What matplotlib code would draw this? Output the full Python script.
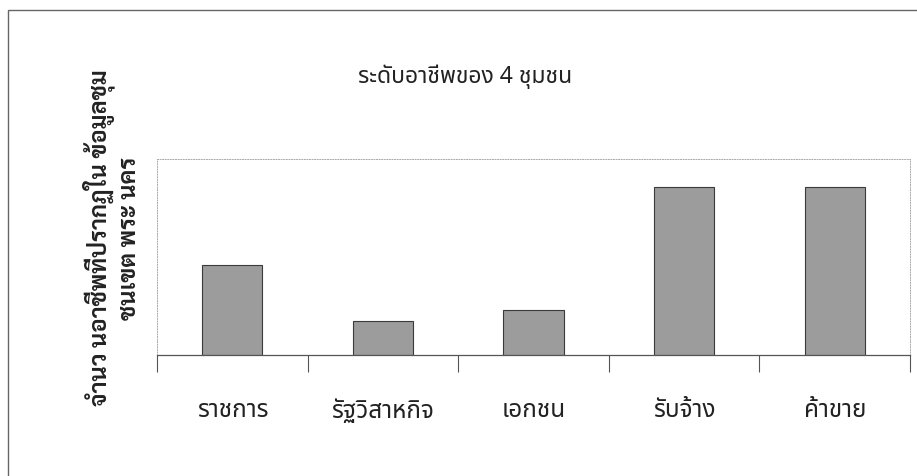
import matplotlib
matplotlib.use('Agg')
import numpy as np
import matplotlib.pyplot as plt
from matplotlib.patches import Rectangle

# occupation counts for the 4 communities
categories = ['ราชการ', 'รัฐวิสาหกิจ', 'เอกชน', 'รับจ้าง', 'ค้าขาย']
counts = [8, 3, 4, 15, 15]
title = 'ระดับอาชีพของ 4 ชุมชน'
ylabel = 'จำนว นอาชีพที่ปรากฏใน ข้อมูลชุม\nชนเขต พระ นคร'

label_font = 'Noto Sans Thai'
ylab_font = 'Sarabun'

fig = plt.figure(figsize=(9.17, 4.77), dpi=100)
ax = fig.add_axes([157/917, 121/477, 753/917, 196/477])

x = np.arange(len(categories))
ax.bar(x, counts, width=0.4, color='#9c9c9c', edgecolor='#3a3a3a', linewidth=0.8)

ax.set_xlim(-0.5, len(categories) - 0.5)
ax.set_ylim(0, 17.5)
ax.set_yticks([])

# category labels at the centres, tick marks at the boundaries
ax.set_xticks(x)
ax.set_xticklabels(categories, fontfamily=label_font, fontsize=17.5,
                   fontweight='light', color='#222')
ax.tick_params(axis='x', which='major', length=0, pad=31)
ax.set_xticks(np.arange(len(categories) + 1) - 0.5, minor=True)
ax.tick_params(axis='x', which='minor', length=12, width=0.8,
               color='#555', direction='out')

for side in ['top', 'left', 'right']:
    ax.spines[side].set_linestyle(':')
    ax.spines[side].set_color('#aaaaaa')
    ax.spines[side].set_linewidth(0.7)
ax.spines['bottom'].set_color('#555')
ax.spines['bottom'].set_linewidth(0.9)

fig.text(465/917, 1 - 77/477, title, ha='center', va='center',
         fontfamily=label_font, fontsize=16.5, fontweight='light', color='#222')
fig.text(112/917, 1 - 238/477, ylabel, ha='center', va='center',
         rotation=90, multialignment='center', linespacing=1.25,
         fontfamily=ylab_font, fontsize=17, fontweight='bold', color='#222')

# outer frame of the scanned page
fig.add_artist(Rectangle((8/917, -0.5), 2, 0.5 + 1 - 11/477,
                         transform=fig.transFigure, fill=False,
                         edgecolor='#666', linewidth=1.0))

fig.savefig('out.png', dpi=100)
